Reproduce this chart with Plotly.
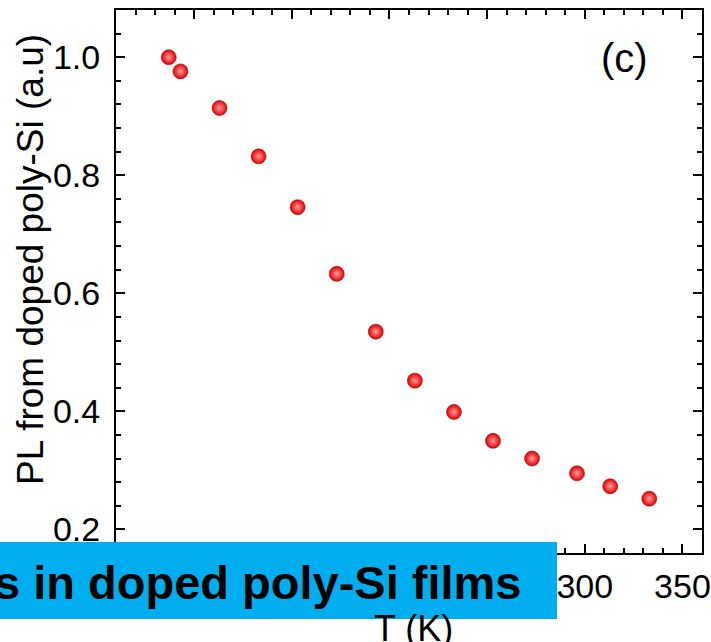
import plotly.graph_objects as go

temperature_K = [87, 93, 113, 133, 153, 173, 193, 213, 233, 253, 273, 296, 313, 333]
pl_intensity = [1.0, 0.976, 0.914, 0.832, 0.746, 0.633, 0.535, 0.452, 0.399, 0.350,
                0.320, 0.295, 0.273, 0.252]
x_ticks = [100, 150, 200, 250, 300, 350]
y_ticks = [0.2, 0.4, 0.6, 0.8, 1.0]
y_tick_labels = ["0.2", "0.4", "0.6", "0.8", "1.0"]

W, H = 711, 642
L, R, T, B = 116, 9, 10, 89
pw, ph = W - L - R, H - T - B

def px(x):
    return (x - L) / pw

def py(y):
    return (H - B - y) / ph

FONT = "Arial, Liberation Sans, Helvetica, sans-serif"

fig = go.Figure()
fig.add_trace(go.Scatter(
    x=temperature_K, y=pl_intensity, mode="markers",
    marker=dict(size=15, color="#e00000",
                gradient=dict(type="radial", color="#ff9a9a"),
                line=dict(width=0.6, color="#b00000")),
    showlegend=False, hoverinfo="x+y"))

axis_common = dict(
    showline=True, linecolor="black", linewidth=2, mirror="allticks",
    ticks="inside", ticklen=9, tickwidth=2, tickcolor="black",
    showgrid=False, zeroline=False,
    tickfont=dict(family=FONT, size=34, color="black"),
)

fig.update_xaxes(range=[60, 360], tickvals=x_ticks,
                 minor=dict(dtick=10, tick0=0, ticks="inside", ticklen=5,
                            tickwidth=2, tickcolor="black"),
                 ticklabelstandoff=2,
                 **axis_common)
fig.update_yaxes(range=[0.16, 1.08], tickvals=y_ticks, ticktext=y_tick_labels,
                 minor=dict(dtick=0.04, tick0=0, ticks="inside", ticklen=5,
                            tickwidth=2, tickcolor="black"),
                 ticklabelstandoff=7,
                 **axis_common)

annotations = [
    dict(text="PL from doped poly-Si (a.u)", textangle=-90, xref="paper", yref="paper",
         x=px(30), y=py(260), xanchor="center", yanchor="middle", showarrow=False,
         font=dict(family=FONT, size=37, color="black")),
    dict(text="T (K)", xref="paper", yref="paper", x=px(413), y=py(628),
         xanchor="center", yanchor="middle", showarrow=False,
         font=dict(family=FONT, size=36, color="black")),
    dict(text="(c)", xref="paper", yref="paper", x=px(624), y=py(58),
         xanchor="center", yanchor="middle", showarrow=False,
         font=dict(family=FONT, size=40, color="black")),
    dict(text="<b>s in doped poly-Si films</b>", xref="paper", yref="paper",
         x=px(524), y=py(582), xanchor="right", yanchor="middle", showarrow=False,
         font=dict(family=FONT, size=47, color="black")),
]

shapes = [
    dict(type="rect", xref="paper", yref="paper", x0=px(-2), x1=px(557),
         y0=py(619), y1=py(542), fillcolor="#00aeef", line=dict(width=0),
         layer="above"),
]

fig.update_layout(
    width=W, height=H, margin=dict(l=L, r=R, t=T, b=B, autoexpand=False),
    paper_bgcolor="white", plot_bgcolor="white",
    annotations=annotations, shapes=shapes,
)

fig.write_html("out.html")
